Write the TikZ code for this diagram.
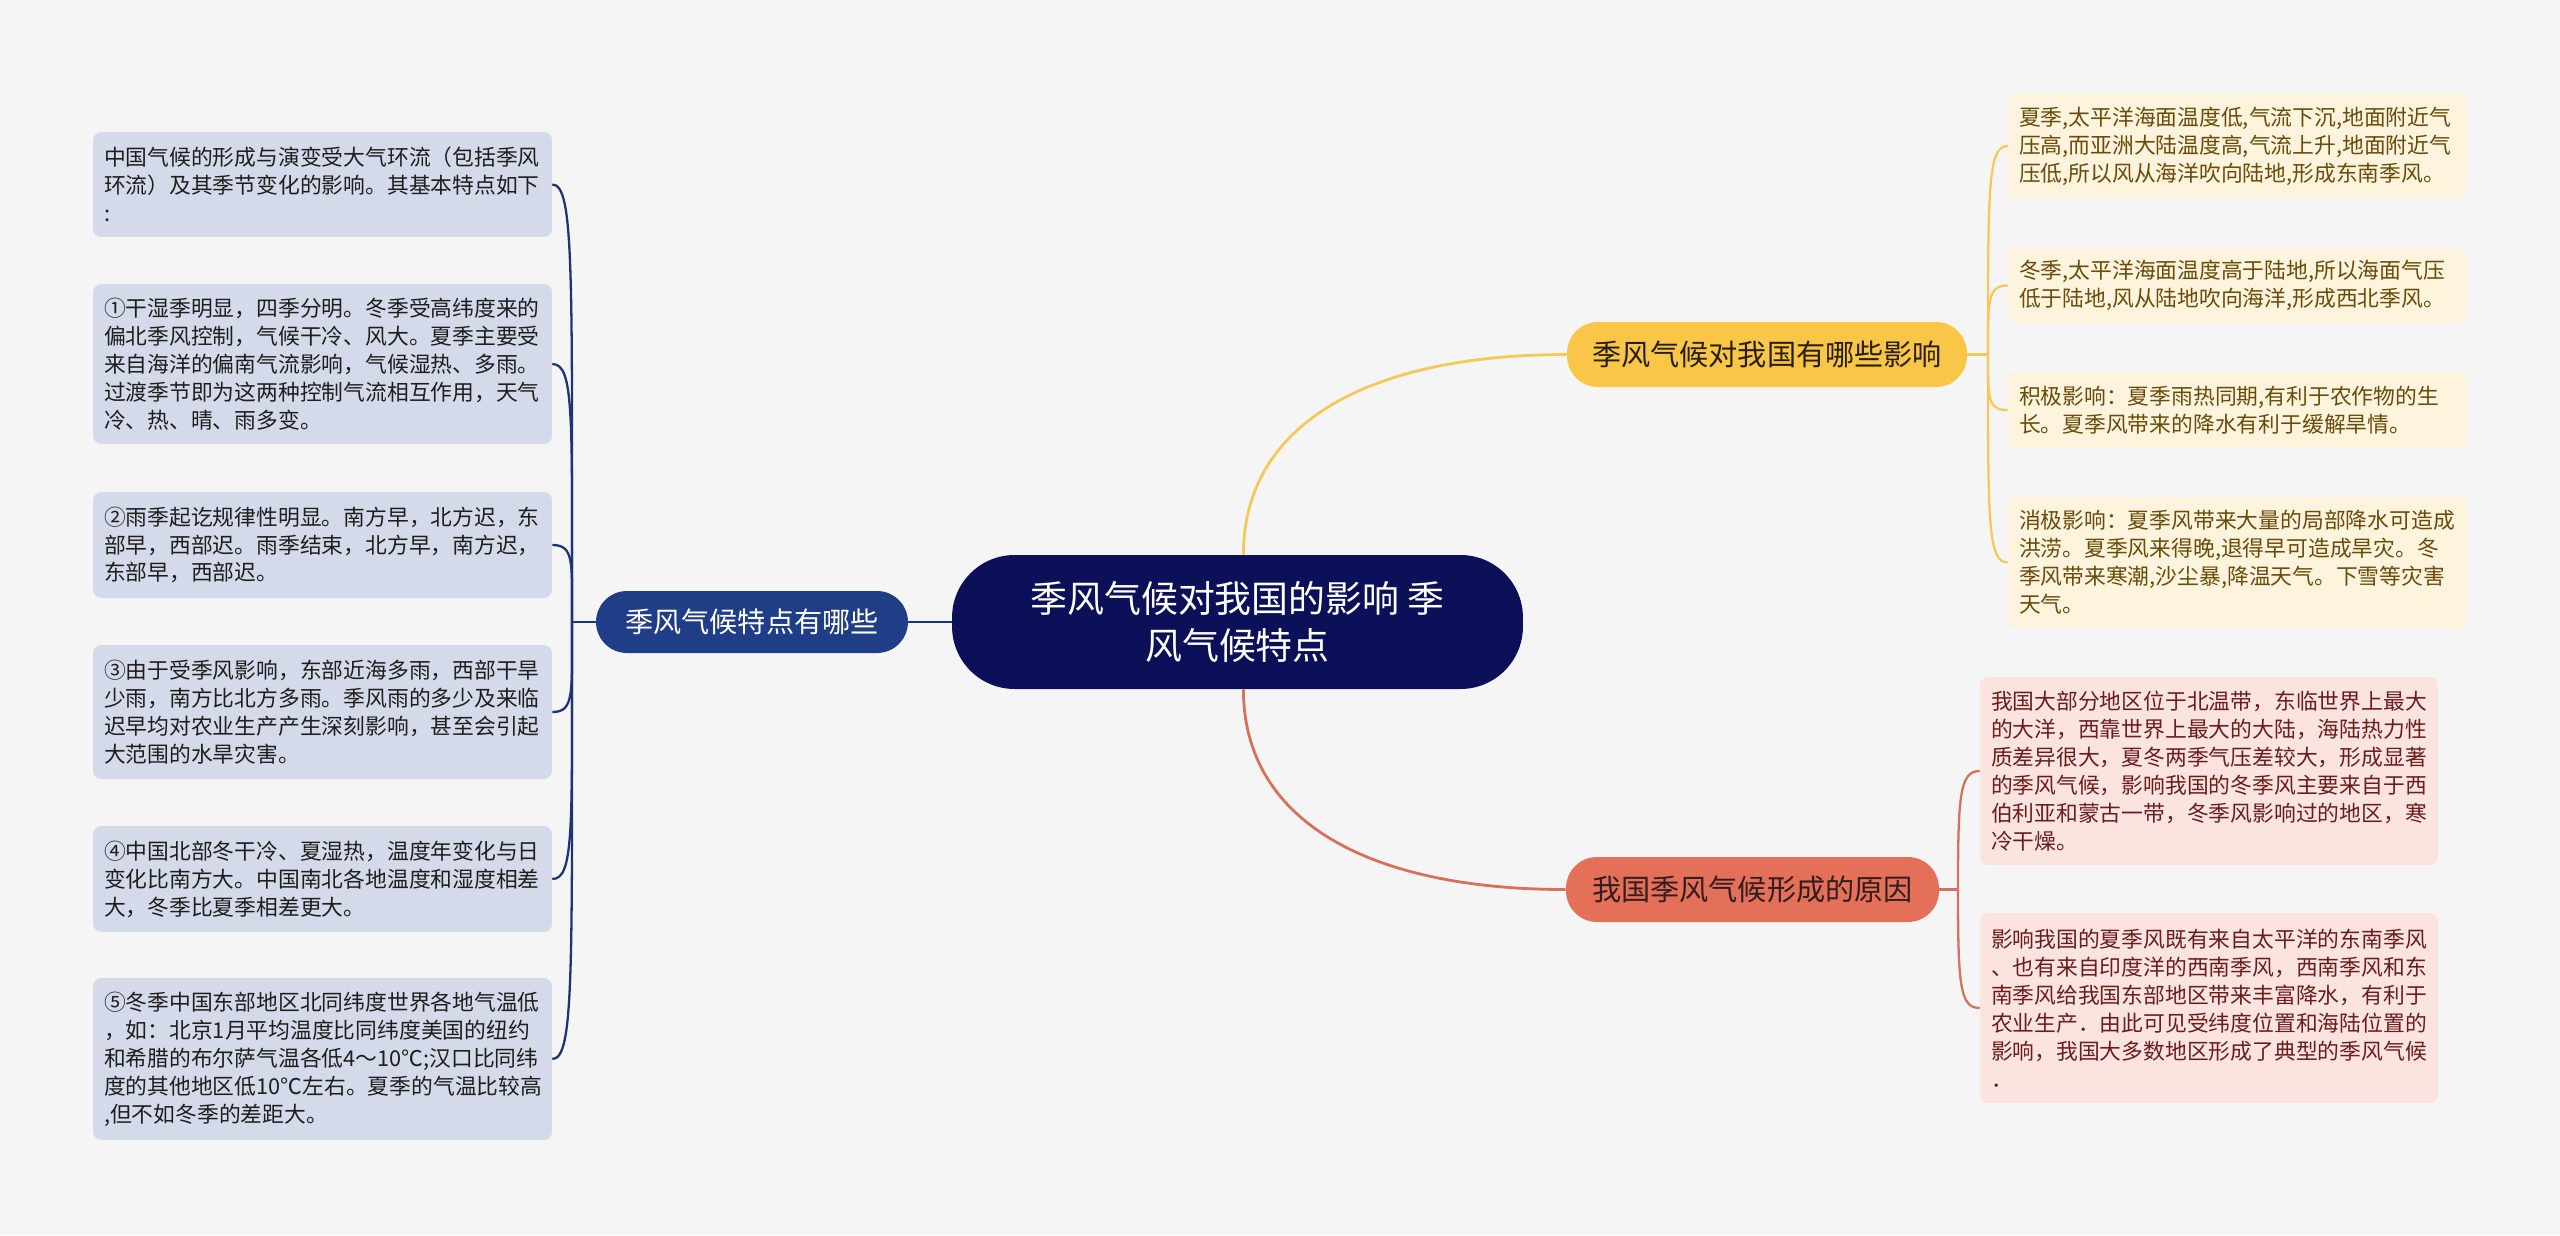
\documentclass[tikz,border=0pt]{standalone}
\usepackage{fontspec}
\setmainfont{Noto Sans CJK SC}
\definecolor{bgcol}{RGB}{245,245,245}
\definecolor{hubcol}{RGB}{11,16,88}
\definecolor{navycol}{RGB}{32,62,135}
\definecolor{navyline}{RGB}{30,52,118}
\definecolor{navyleaf}{RGB}{213,218,234}
\definecolor{goldcol}{RGB}{250,198,72}
\definecolor{goldline}{RGB}{245,200,90}
\definecolor{goldleaf}{RGB}{254,243,220}
\definecolor{goldtext}{RGB}{105,75,10}
\definecolor{redcol}{RGB}{229,112,90}
\definecolor{redline}{RGB}{215,112,92}
\definecolor{redleaf}{RGB}{251,227,223}
\definecolor{redtext}{RGB}{105,30,30}
\begin{document}
\begin{tikzpicture}[x=0.02cm, y=-0.02cm,
  hub/.style={fill=hubcol, text=white, rounded corners=1.25cm, minimum width=11.42cm,
    minimum height=2.68cm, align=center, font=\fontsize{21}{27}\selectfont},
  branch/.style={rounded corners=0.62cm, minimum height=1.3cm, inner xsep=0pt},
  leaf/.style={rounded corners=0.16cm, inner xsep=0.22cm, inner ysep=0pt, text width=8.74cm,
    align=left, font=\fontsize{12.4}{15.9}\selectfont},
  navyleaf/.style={leaf, fill=navyleaf, text={rgb,255:red,30;green,30;blue,30}},
  goldleaf/.style={leaf, fill=goldleaf, text=goldtext},
  redleaf/.style={leaf, fill=redleaf, text=redtext, text width=8.72cm},
  navylink/.style={draw=navyline, line width=1.3pt},
  goldlink/.style={draw=goldline, line width=1.3pt},
  redlink/.style={draw=redline, line width=1.3pt}]
  \fill[bgcol] (0,0) rectangle (2560,1235);
  \useasboundingbox (0,0) rectangle (2560,1235);

  % centre and main branches
  \node[hub] (hub) at (1237.5,622) {季风气候对我国的影响 季\\风气候特点};
  \node[branch, fill=navycol, text=white, minimum width=6.24cm, minimum height=1.24cm,
    font=\fontsize{16}{20}\selectfont] (feat) at (752,622) {季风气候特点有哪些};
  \node[branch, fill=goldcol, text={rgb,255:red,40;green,32;blue,12}, minimum width=8cm,
    font=\fontsize{16.6}{21}\selectfont] (eff) at (1767,354.5) {季风气候对我国有哪些影响};
  \node[branch, fill=redcol, text={rgb,255:red,50;green,30;blue,30}, minimum width=7.46cm,
    font=\fontsize{16.6}{21}\selectfont] (cause) at (1752.5,889.5) {我国季风气候形成的原因};

  % left leaves
  \node[navyleaf, minimum height=2.1cm] (f1) at (322.5,184.5)
    {中国气候的形成与演变受大气环流（包括季风\\环流）及其季节变化的影响。其基本特点如下\\:};
  \node[navyleaf, minimum height=3.2cm] (f2) at (322.5,364)
    {①干湿季明显，四季分明。冬季受高纬度来的\\偏北季风控制，气候干冷、风大。夏季主要受\\来自海洋的偏南气流影响，气候湿热、多雨。\\过渡季节即为这两种控制气流相互作用，天气\\冷、热、晴、雨多变。};
  \node[navyleaf, minimum height=2.12cm] (f3) at (322.5,545)
    {②雨季起讫规律性明显。南方早，北方迟，东\\部早，西部迟。雨季结束，北方早，南方迟，\\东部早，西部迟。};
  \node[navyleaf, minimum height=2.68cm] (f4) at (322.5,712)
    {③由于受季风影响，东部近海多雨，西部干旱\\少雨，南方比北方多雨。季风雨的多少及来临\\迟早均对农业生产产生深刻影响，甚至会引起\\大范围的水旱灾害。};
  \node[navyleaf, minimum height=2.12cm] (f5) at (322.5,879)
    {④中国北部冬干冷、夏湿热，温度年变化与日\\变化比南方大。中国南北各地温度和湿度相差\\大，冬季比夏季相差更大。};
  \node[navyleaf, minimum height=3.24cm] (f6) at (322.5,1059)
    {⑤冬季中国东部地区北同纬度世界各地气温低\\，如：北京1月平均温度比同纬度美国的纽约\\和希腊的布尔萨气温各低4～10℃;汉口比同纬\\度的其他地区低10℃左右。夏季的气温比较高\\,但不如冬季的差距大。};

  % right leaves
  \node[goldleaf, minimum height=2.08cm] (e1) at (2237.5,146)
    {夏季,太平洋海面温度低,气流下沉,地面附近气\\压高,而亚洲大陆温度高,气流上升,地面附近气\\压低,所以风从海洋吹向陆地,形成东南季风。};
  \node[goldleaf, minimum height=1.5cm] (e2) at (2237.5,285.5)
    {冬季,太平洋海面温度高于陆地,所以海面气压\\低于陆地,风从陆地吹向海洋,形成西北季风。};
  \node[goldleaf, minimum height=1.52cm] (e3) at (2237.5,410)
    {积极影响：夏季雨热同期,有利于农作物的生\\长。夏季风带来的降水有利于缓解旱情。};
  \node[goldleaf, minimum height=2.62cm] (e4) at (2237.5,562.5)
    {消极影响：夏季风带来大量的局部降水可造成\\洪涝。夏季风来得晚,退得早可造成旱灾。冬\\季风带来寒潮,沙尘暴,降温天气。下雪等灾害\\天气。};
  \node[redleaf, minimum height=3.76cm] (c1) at (2209,771)
    {我国大部分地区位于北温带，东临世界上最大\\的大洋，西靠世界上最大的大陆，海陆热力性\\质差异很大，夏冬两季气压差较大，形成显著\\的季风气候，影响我国的冬季风主要来自于西\\伯利亚和蒙古一带，冬季风影响过的地区，寒\\冷干燥。};
  \node[redleaf, minimum height=3.8cm] (c2) at (2209,1008)
    {影响我国的夏季风既有来自太平洋的东南季风\\、也有来自印度洋的西南季风，西南季风和东\\南季风给我国东部地区带来丰富降水，有利于\\农业生产．由此可见受纬度位置和海陆位置的\\影响，我国大多数地区形成了典型的季风气候\\．};

  % junctions
  \coordinate (fj) at (572,622);
  \coordinate (ej) at (1988,354.5);
  \coordinate (cj) at (1958,889.5);

  % links from the centre
  \draw[navylink, line width=1.6pt] (hub.west) -- (feat.east);
  \draw[goldlink, line width=1.6pt] (hub.85) .. controls +(0,-130) and +(-200,0) .. (eff.west);
  \draw[redlink, line width=1.6pt] (hub.275) .. controls +(0,130) and +(-200,0) .. (cause.west);

  % left links
  \draw[navylink] (feat.west) -- (fj);
  \draw[navylink] (fj) .. controls +(0,-350) and +(22,0) .. (f1.east);
  \draw[navylink] (fj) .. controls +(0,-206) and +(22,0) .. (f2.east);
  \draw[navylink] (fj) .. controls +(0,-60) and +(22,0) .. (f3.east);
  \draw[navylink] (fj) .. controls +(0,72) and +(22,0) .. (f4.east);
  \draw[navylink] (fj) .. controls +(0,206) and +(22,0) .. (f5.east);
  \draw[navylink] (fj) .. controls +(0,350) and +(22,0) .. (f6.east);

  % right links
  \draw[goldlink] (eff.east) -- (ej);
  \draw[goldlink] (ej) .. controls +(0,-166) and +(-20,0) .. (e1.west);
  \draw[goldlink] (ej) .. controls +(0,-55) and +(-20,0) .. (e2.west);
  \draw[goldlink] (ej) .. controls +(0,45) and +(-20,0) .. (e3.west);
  \draw[goldlink] (ej) .. controls +(0,167) and +(-20,0) .. (e4.west);
  \draw[redlink] (cause.east) -- (cj);
  \draw[redlink] (cj) .. controls +(0,-94) and +(-20,0) .. (c1.west);
  \draw[redlink] (cj) .. controls +(0,95) and +(-20,0) .. (c2.west);
\end{tikzpicture}
\end{document}
